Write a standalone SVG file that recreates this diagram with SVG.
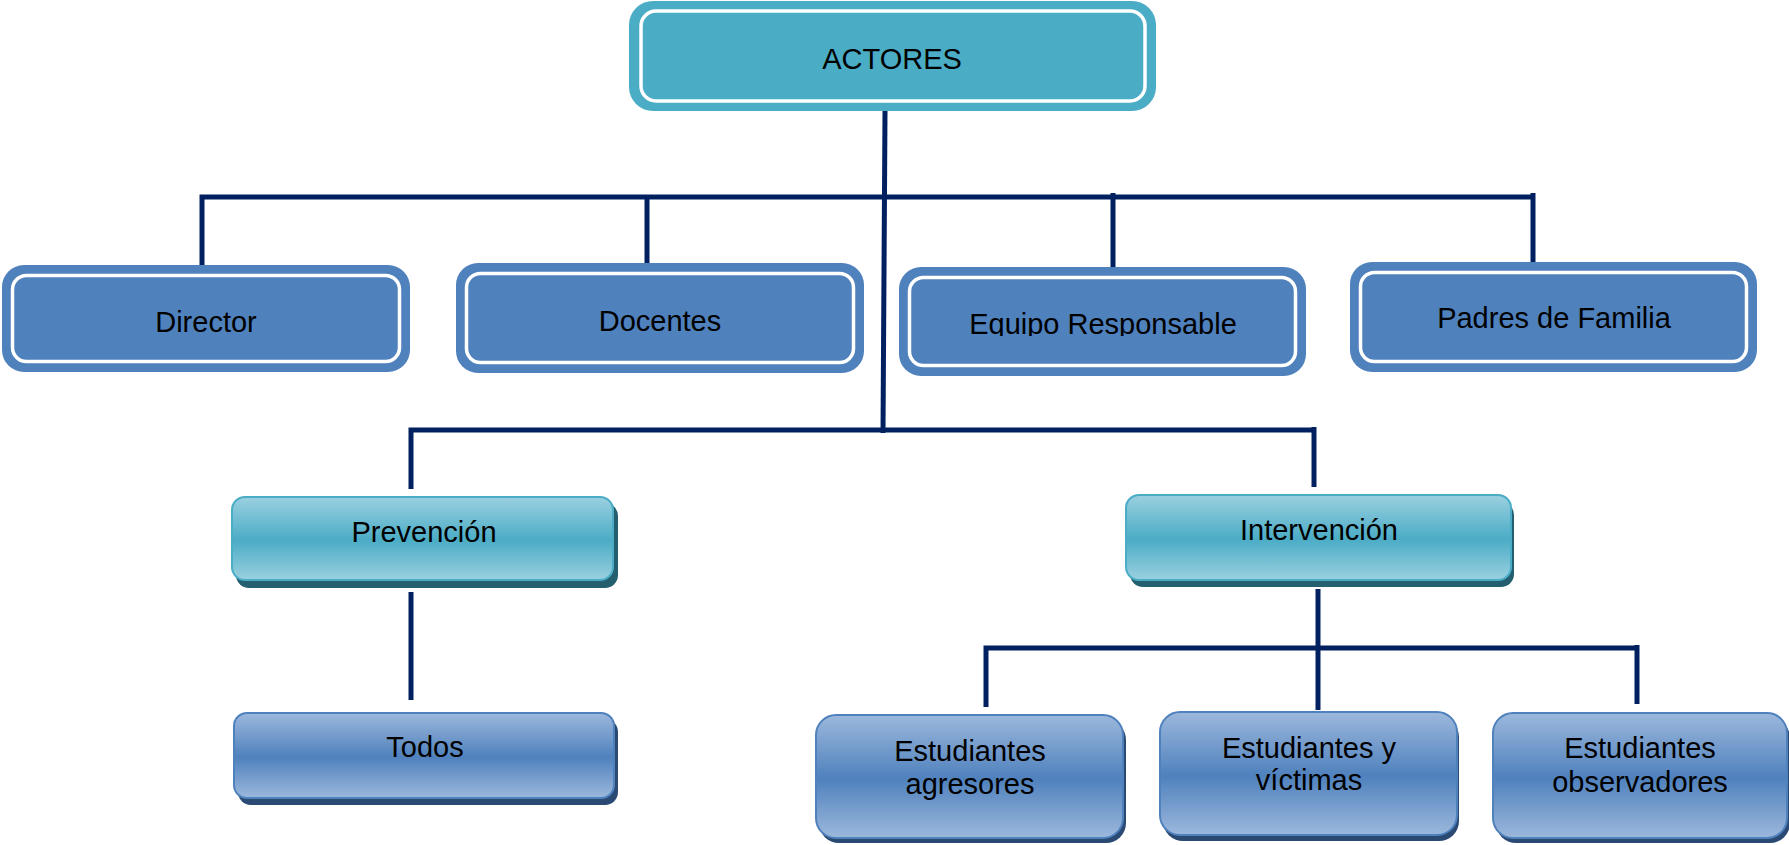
<svg xmlns="http://www.w3.org/2000/svg" width="1789" height="845" viewBox="0 0 1789 845">
<defs>
<linearGradient id="gTeal" x1="0" y1="0" x2="0" y2="1">
<stop offset="0" stop-color="#9ad0e0"/>
<stop offset="0.52" stop-color="#4bacc6"/>
<stop offset="1" stop-color="#9ad0e0"/>
</linearGradient>
<linearGradient id="gBlue" x1="0" y1="0" x2="0" y2="1">
<stop offset="0" stop-color="#9cb8dc"/>
<stop offset="0.52" stop-color="#4f81bd"/>
<stop offset="1" stop-color="#9cb8dc"/>
</linearGradient>
<clipPath id="clipEq"><rect x="890" y="260" width="430" height="76"/></clipPath>
</defs>
<style>
text{font-family:"Liberation Sans",Arial,sans-serif;font-size:29px;fill:#000;text-anchor:middle}
.l2{fill:#4f81bd}
.ring{fill:none;stroke:#fff;stroke-width:3.5}
.tealT{fill:url(#gTeal);stroke:#4bacc6;stroke-width:2}
.tealS{fill:#245f70}
.blueT{fill:url(#gBlue);stroke:#4f81bd;stroke-width:2}
.blueS{fill:#2a4a74}
.conn line,.conn path{stroke:#002060;stroke-width:5;fill:none}
</style>

<g id="connectors" class="conn">
<line x1="885" y1="111" x2="883" y2="433"/>
<path d="M202 274 V197 H1533"/>
<line x1="647" y1="197" x2="647" y2="274"/>
<line x1="1113" y1="193" x2="1113" y2="272"/>
<line x1="1533" y1="193" x2="1533" y2="272"/>
<path d="M411 489 V430 H1314"/>
<line x1="1314" y1="427" x2="1314" y2="487"/>
<line x1="411" y1="592" x2="411" y2="700"/>
<line x1="1318" y1="589" x2="1318" y2="710"/>
<path d="M986 707 V648 H1637"/>
<line x1="1637" y1="645" x2="1637" y2="704"/>
</g>

<g id="actores">
<rect x="629" y="1" width="527" height="110" rx="24" fill="#4bacc6"/>
<rect x="641" y="11" width="504" height="90" rx="15" class="ring"/>
<text x="892" y="69">ACTORES</text>
</g>

<g id="director">
<rect x="2" y="265" width="408" height="107" rx="22" class="l2"/>
<rect x="12.5" y="275.5" width="387" height="86" rx="14" class="ring"/>
<text x="206" y="332">Director</text>
</g>

<g id="docentes">
<rect x="456" y="263" width="408" height="110" rx="22" class="l2"/>
<rect x="466.5" y="273.5" width="387" height="89" rx="14" class="ring"/>
<text x="660" y="331">Docentes</text>
</g>

<g id="equipo">
<rect x="899" y="267" width="407" height="109" rx="22" class="l2"/>
<rect x="909.5" y="277.5" width="386" height="88" rx="14" class="ring"/>
<text x="1103" y="334" clip-path="url(#clipEq)">Equipo Responsable</text>
</g>

<g id="padres">
<rect x="1350" y="262" width="407" height="110" rx="22" class="l2"/>
<rect x="1360.5" y="272.5" width="386" height="89" rx="14" class="ring"/>
<text x="1554" y="328">Padres de Familia</text>
</g>

<g id="prevencion">
<rect x="236" y="503" width="382" height="85" rx="13" class="tealS"/>
<rect x="232" y="497" width="381" height="83" rx="13" class="tealT"/>
<text x="424" y="542">Prevención</text>
</g>

<g id="intervencion">
<rect x="1130" y="502" width="384" height="85" rx="13" class="tealS"/>
<rect x="1126" y="495" width="385" height="85" rx="13" class="tealT"/>
<text x="1319" y="540">Intervención</text>
</g>

<g id="todos">
<rect x="238" y="719" width="380" height="86" rx="13" class="blueS"/>
<rect x="234" y="713" width="380" height="85" rx="13" class="blueT"/>
<text x="425" y="757">Todos</text>
</g>

<g id="agresores">
<rect x="819" y="720" width="307" height="123" rx="20" class="blueS"/>
<rect x="816" y="715" width="307" height="123" rx="20" class="blueT"/>
<text x="970" y="761">Estudiantes</text>
<text x="970" y="794">agresores</text>
</g>

<g id="victimas">
<rect x="1163" y="717" width="296" height="124" rx="20" class="blueS"/>
<rect x="1160" y="712" width="297" height="123" rx="20" class="blueT"/>
<text x="1309" y="758">Estudiantes y</text>
<text x="1309" y="790">víctimas</text>
</g>

<g id="observadores">
<rect x="1496" y="718" width="294" height="125" rx="20" class="blueS"/>
<rect x="1493" y="713" width="294" height="125" rx="20" class="blueT"/>
<text x="1640" y="758">Estudiantes</text>
<text x="1640" y="792">observadores</text>
</g>
</svg>
